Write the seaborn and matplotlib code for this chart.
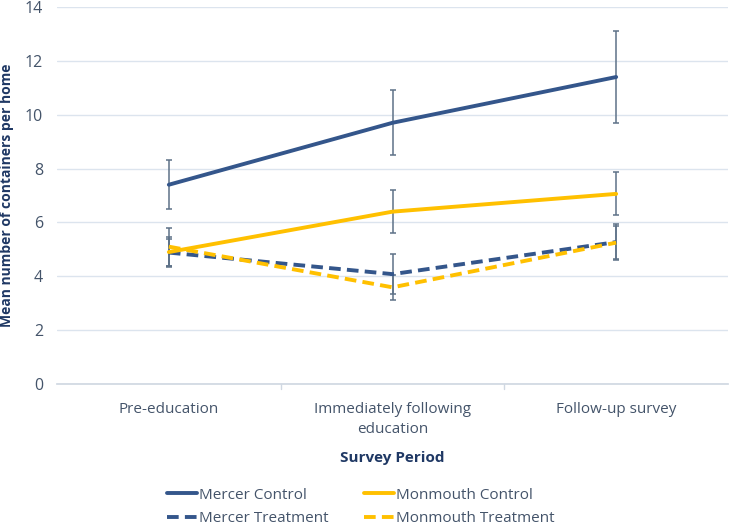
import numpy as np
import pandas as pd
import matplotlib
matplotlib.use("Agg")
import matplotlib.pyplot as plt
import seaborn as sns

# Data
periods = ["Pre-education", "Immediately following\neducation", "Follow-up survey"]
series_names = ["Mercer Control", "Mercer Treatment", "Monmouth Control", "Monmouth Treatment"]

mercer_control = [7.4, 9.7, 11.4]
mercer_control_err = [0.9, 1.2, 1.7]
mercer_treatment = [4.88, 4.08, 5.27]
mercer_treatment_err = [0.5, 0.73, 0.67]
monmouth_control = [4.9, 6.4, 7.06]
monmouth_control_err = [0.55, 0.8, 0.8]
monmouth_treatment = [5.1, 3.59, 5.25]
monmouth_treatment_err = [0.7, 0.47, 0.62]

blue = "#34568B"
yellow = "#FFC000"
err_color = "#5E7288"
text_color = "#44546A"
label_color = "#1F3864"

sns.set_theme(style="white")
plt.rcParams["font.family"] = ["Open Sans", "DejaVu Sans"]

fig = plt.figure(figsize=(7.3, 5.27), dpi=100)
ax = fig.add_axes([57 / 730, 1 - 384 / 527, (728 - 57) / 730, (384 - 7) / 527])

series = [
    ("Mercer Control", mercer_control, mercer_control_err, blue, "-"),
    ("Mercer Treatment", mercer_treatment, mercer_treatment_err, blue, "--"),
    ("Monmouth Control", monmouth_control, monmouth_control_err, yellow, "-"),
    ("Monmouth Treatment", monmouth_treatment, monmouth_treatment_err, yellow, "--"),
]

x = np.arange(len(periods))
for name, vals, errs, color, ls in series:
    df = pd.DataFrame({"period": x, "value": vals})
    ax.errorbar(x, vals, yerr=errs, fmt="none", ecolor=err_color, elinewidth=1.1,
                capsize=2.5, capthick=1.1, zorder=2)
    sns.lineplot(data=df, x="period", y="value", ax=ax, color=color, linewidth=2.8,
                 linestyle=ls, label=name, zorder=3, legend=False)

# dashed line style similar to the Excel chart
for line in ax.get_lines():
    if line.get_linestyle() == "--":
        line.set_dashes([3, 1.6])

ax.set_xlim(-0.5, 2.5)
ax.set_ylim(0, 14)
ax.set_yticks(range(0, 15, 2))
ax.set_xticks(x)
ax.set_xticklabels(periods, linespacing=1.45)
ax.yaxis.grid(True, color="#DCE4EE", linewidth=1)
ax.xaxis.grid(False)
for side in ["top", "right", "left"]:
    ax.spines[side].set_visible(False)
ax.spines["bottom"].set_color("#D0D8E2")
ax.tick_params(axis="x", length=0, labelsize=11, labelcolor=text_color, pad=13)
ax.tick_params(axis="y", length=0, labelsize=11.5, labelcolor=text_color, pad=10)

# small category-boundary ticks on x axis
for b in [0.5, 1.5]:
    ax.plot([b, b], [0, -0.2], color="#D0D8E2", lw=1, clip_on=False)

ax.set_xlabel("Survey Period", fontsize=11, fontweight="bold", color=label_color, labelpad=10)
ax.set_ylabel("Mean number of containers per home", fontsize=10, fontweight="bold",
              color=label_color, labelpad=8)

handles, labels = ax.get_legend_handles_labels()
leg = fig.legend(handles, labels, loc="upper left", bbox_to_anchor=(153 / 730, 1 - 474 / 527),
                 ncol=2, frameon=False, fontsize=11, handlelength=2.0, handletextpad=0.1,
                 columnspacing=2.3, labelspacing=0.55, labelcolor=text_color)

fig.savefig("out.png", dpi=100)
